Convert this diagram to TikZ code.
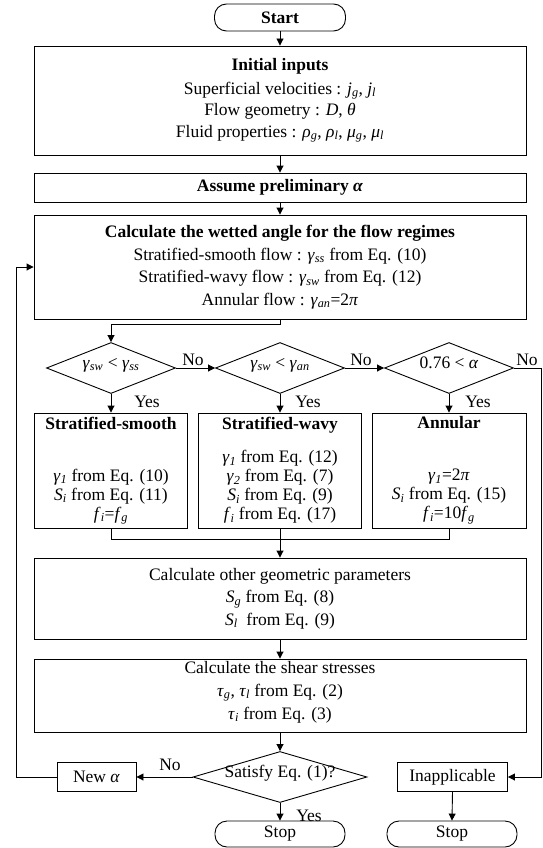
\documentclass[tikz,border=0pt]{standalone}
\usepackage{fontspec}
\setmainfont{Liberation Serif}
\usetikzlibrary{shapes.geometric,arrows.meta}
\newcommand{\ix}[2]{\textit{#1}\textsubscript{\textit{#2}}}
\begin{document}
\begin{tikzpicture}[x=1pt,y=-1pt,
  font=\fontsize{17.5}{21.5}\selectfont,
  every path/.style={line width=0.9pt},
  box/.style={draw, rectangle, inner sep=0pt, align=center},
  term/.style={draw, rectangle, rounded corners=12pt, inner sep=0pt, minimum width=131, minimum height=27},
  dec/.style={draw, diamond, inner sep=0pt, minimum height=51},
  arr/.style={-{Triangle[length=7pt,width=7pt]}},
  lbl/.style={inner sep=0pt}]
\useasboundingbox (0,0) rectangle (543,848);

\node[term] (start) at (280,17.5) {\textbf{Start}};
\node[box, minimum width=492, minimum height=109] (init) at (280,100.5)
  {\textbf{Initial inputs}\\[2pt]
   Superficial velocities : \ix{j}{g}, \ix{j}{l}\\
   Flow geometry : \textit{D}, \textit{θ}\\
   Fluid properties : \ix{ρ}{g}, \ix{ρ}{l}, \ix{μ}{g}, \ix{μ}{l}};
\node[box, minimum width=492, minimum height=29] (assume) at (280,187.5)
  {\textbf{Assume preliminary \textit{α}}};
\node[box, minimum width=492, minimum height=104, font=\fontsize{17.5}{22.5}\selectfont] (wet) at (280,267)
  {\textbf{Calculate the wetted angle for the flow regimes}\\
   Stratified-smooth flow : \ix{γ}{ss} from Eq. (10)\\
   Stratified-wavy flow : \ix{γ}{sw} from Eq. (12)\\
   Annular flow : \ix{γ}{an}=2\textit{π}};

\node[dec, minimum width=129] (d1) at (111,368) {\smash{\makebox[0pt]{\ix{γ}{sw} < \ix{γ}{ss}}}};
\node[dec, minimum width=129] (d2) at (280,368) {\smash{\makebox[0pt]{\ix{γ}{sw} < \ix{γ}{an}}}};
\node[dec, minimum width=129] (d3) at (449,368) {\smash{\makebox[0pt]{0.76 < \textit{α}}}};

\node[box, minimum width=153, minimum height=115, font=\fontsize{17.5}{19}\selectfont] (b1) at (111,470.5)
  {\textbf{Stratified-smooth}\\[14pt]
   \mbox{}\\
   \ix{γ}{1} from Eq. (10)\\
   \ix{S}{i} from Eq. (11)\\
   \ix{f}{i}=\ix{f}{g}};
\node[box, minimum width=163.5, minimum height=115, font=\fontsize{17.5}{19}\selectfont] (b2) at (280,470.5)
  {\textbf{Stratified-wavy}\\[14pt]
   \ix{γ}{1} from Eq. (12)\\
   \ix{γ}{2} from Eq. (7)\\
   \ix{S}{i} from Eq. (9)\\
   \ix{f}{i} from Eq. (17)};
\node[box, minimum width=154, minimum height=115, font=\fontsize{17.5}{19}\selectfont] (b3) at (449,470.5)
  {\textbf{Annular}\\[14pt]
   \mbox{}\\
   \ix{γ}{1}=2\textit{π}\\
   \ix{S}{i} from Eq. (15)\\
   \ix{f}{i}=10\ix{f}{g}};

\node[box, minimum width=492, minimum height=81, font=\fontsize{17.5}{22.5}\selectfont] (geo) at (280,598.5)
  {Calculate other geometric parameters\\
   \ix{S}{g} from Eq. (8)\\
   \ix{S}{l}\ \ from Eq. (9)};
\node[box, minimum width=492, minimum height=73] (shear) at (280,695.5) {};
\node[align=center, inner sep=0pt, font=\fontsize{17.5}{23}\selectfont] (sheart) at (280,692)
  {Calculate the shear stresses\\
   \ix{τ}{g}, \ix{τ}{l} from Eq. (2)\\
   \ix{τ}{i} from Eq. (3)};

\node[dec, minimum width=174] (sat) at (280,777) {\smash{\makebox[0pt]{Satisfy Eq. (1)?}}};
\node[box, minimum width=79, minimum height=28.6] (newa) at (96.5,777) {New \textit{α}};
\node[box, minimum width=110, minimum height=28.6] (inap) at (452.5,777) {Inapplicable};
\node[term, minimum width=130, minimum height=26] (stop1) at (280,834) {Stop};
\node[term, minimum width=130, minimum height=26] (stop2) at (452,834) {Stop};

% labels
\node[lbl] (no1) at (193,359.5) {No};
\node[lbl] (no2) at (361,359.5) {No};
\node[lbl] (no3) at (527,359.5) {No};
\node[lbl] (yes1) at (147,402) {Yes};
\node[lbl] (yes2) at (308,402) {Yes};
\node[lbl] (yes3) at (478,402) {Yes};
\node[lbl] (no4) at (170,765) {No};
\node[lbl] (yes4) at (309,816) {Yes};

% connectors
\draw[arr] (start) -- (init);
\draw[arr] (init) -- (assume);
\draw[arr] (assume) -- (wet);
\draw[arr] (wet.south) -- ++(0,4.5) -| (d1.north);
\draw[arr] (d1.east) -- (d2.west);
\draw[arr] (d2.east) -- (d3.west);
\coordinate (rr) at (541,368);
\draw[arr] (d3.east) -- (rr) |- (inap.east);
\draw[arr] (d1.south) -- (b1.north);
\draw[arr] (d2.south) -- (b2.north);
\draw[arr] (d3.south) -- (b3.north);
\coordinate (mrg) at (280,539.6);
\draw (b1.south) |- (mrg) -| (b3.south);
\draw[arr] (b2.south) -- (geo.north);
\draw[arr] (geo) -- (shear);
\draw[arr] (shear) -- (sat);
\draw[arr] (sat.west) -- (newa.east);
\coordinate (lp) at (16,777);
\draw[arr] (newa.west) -- (lp) |- (wet.west);
\draw[arr] (sat.south) -- (stop1.north);
\draw[arr] (inap.south) -- (stop2.north);
\end{tikzpicture}
\end{document}
